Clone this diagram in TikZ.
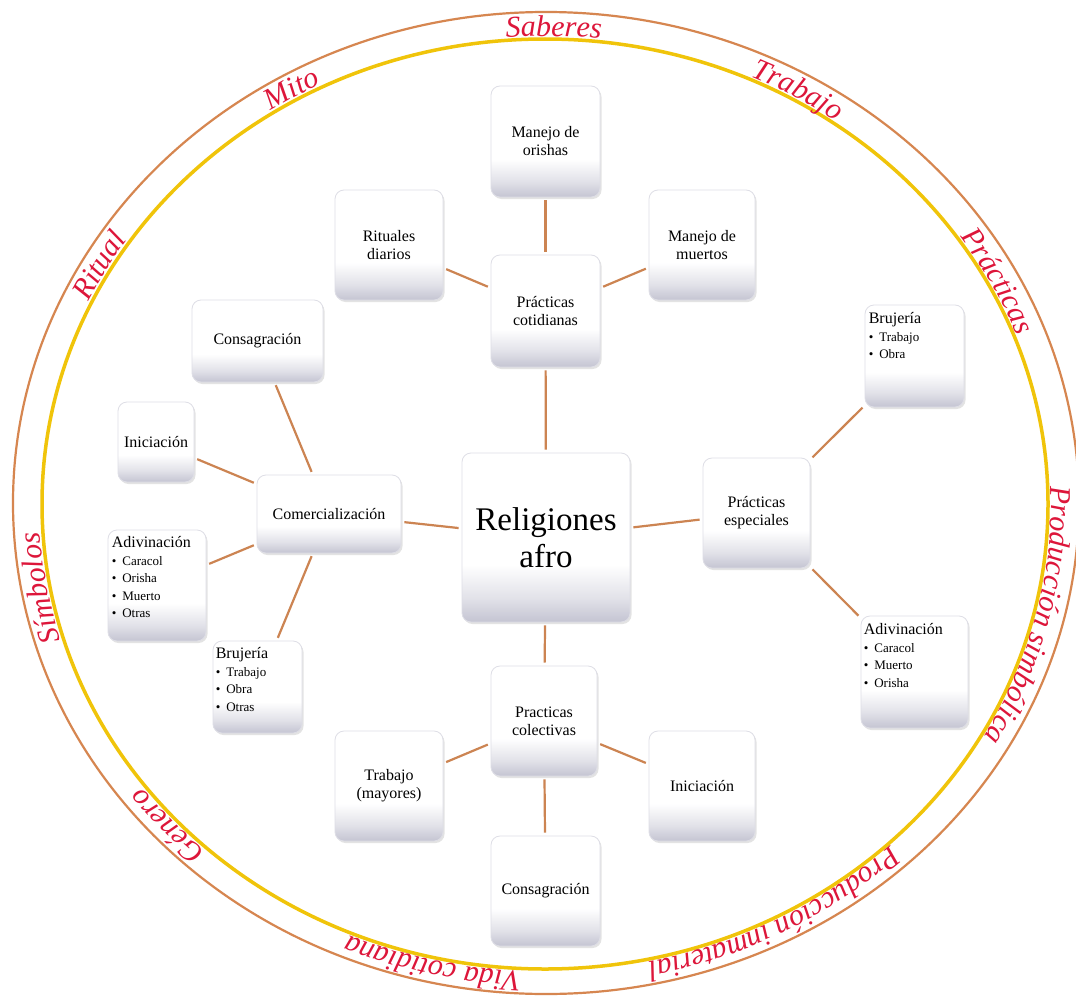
\documentclass[tikz,border=0pt]{standalone}
\usepackage{fontspec}
\setmainfont{Liberation Serif}
\usetikzlibrary{calc,shadows,decorations.text}
\definecolor{ringred}{RGB}{221,22,58}
\definecolor{ringor}{RGB}{214,134,80}
\definecolor{ringyel}{RGB}{240,196,10}
\definecolor{conncol}{RGB}{204,132,82}
\definecolor{boxg}{RGB}{196,196,210}
\definecolor{boxline}{RGB}{222,222,230}
\pgfdeclareverticalshading{glossy}{100bp}{color(0bp)=(boxg); color(25bp)=(boxg); color(32bp)=(boxg!50!white); color(42bp)=(white); color(100bp)=(white)}
\newcommand\ringfont{\fontsize{30}{31}\selectfont\itshape}
\newcommand\boxfont{\fontsize{16}{18}\selectfont}
\newcommand\bigfont{\fontsize{33}{37}\selectfont}
\newcommand\hdrfont{\fontsize{16}{18}\selectfont}
\newcommand\itmfont{\fontsize{13}{17.5}\selectfont}
\newcommand\itm[1]{\textbullet\hspace{6pt}#1}
\newcommand\ringword[3]{\path[decorate, decoration={text along path, text={|\ringfont|#3}, text align=center, text color=ringred}] ($(545,504)+({-(#1)-(#2)}:506 and 468)$) arc[start angle={-(#1)-(#2)}, end angle={-(#1)+(#2)}, x radius=506, y radius=468];}
\tikzset{
  box/.style={rectangle, rounded corners=9pt, draw=boxline, line width=0.8pt, shade, shading=glossy,
    drop shadow={opacity=0.22, shadow xshift=1.5pt, shadow yshift=-2pt},
    align=center, font=\boxfont, inner sep=2pt, text=black},
  sz/.style 2 args={minimum width=#1pt, minimum height=#2pt},
  conn/.style={draw=conncol, line width=2.2pt, shorten >=3pt, shorten <=3pt},
  listtxt/.style={align=left, font=\itmfont, inner sep=0pt, anchor=north west, text=black},
}
\begin{document}
\begin{tikzpicture}[x=1pt,y=-1pt]
\useasboundingbox (0,0) rectangle (1076,998);
\clip (0,0) rectangle (1076,998);
\fill[white] (0,0) rectangle (1076,998);
% rings
\draw[ringor, line width=2.2pt] (546,503) ellipse [x radius=533, y radius=491];
\draw[ringyel, line width=3.5pt] (545,504) ellipse [x radius=503, y radius=465];
% ring words
\ringword{89}{40}{Saberes}
\ringword{120}{30}{Mito}
\ringword{60}{30}{Trabajo}
\ringword{27.5}{30}{Prácticas}
\ringword{150.5}{30}{Ritual}
\ringword{190}{30}{Símbolos}
\ringword{-13.5}{40}{Producción simbólica}
\ringword{-138}{30}{Género}
\ringword{-103}{30}{Vida cotidiana}
\ringword{-62}{40}{Producción inmaterial}
% boxes
\node[box, sz={109}{111}] (orishas) at (545.5,141.5) {Manejo de\\orishas};
\node[box, sz={108}{110}] (rituales) at (389,245) {Rituales\\diarios};
\node[box, sz={106}{110}] (muertos) at (702,245) {Manejo de\\muertos};
\node[box, sz={109}{112}] (cotid) at (545.5,311) {Prácticas\\cotidianas};
\node[box, sz={131}{82}] (consL) at (257.5,341) {Consagración};
\node[box, sz={76}{80}] (iniL) at (156,442) {Iniciación};
\node[box, sz={99}{102}] (brujR) at (914.5,356) {};
\node[box, sz={168}{169}, font=\bigfont] (center) at (546,537.5) {Religiones\\afro};
\node[box, sz={144}{78}] (comer) at (329,514) {Comercialización};
\node[box, sz={107}{110}] (espec) at (756.5,513) {Prácticas\\especiales};
\node[box, sz={98}{111}] (adivL) at (157,585.5) {};
\node[box, sz={89}{92}] (brujL) at (257.5,687) {};
\node[box, sz={107}{112}] (adivR) at (914.5,672) {};
\node[box, sz={106}{110}] (colect) at (544,721) {Practicas\\colectivas};
\node[box, sz={108}{110}] (trabajo) at (389,786) {Trabajo\\(mayores)};
\node[box, sz={106}{110}] (iniBR) at (702,786) {Iniciación};
\node[box, sz={109}{110}] (consB) at (545.5,891) {Consagración};
% list texts
\node[listtxt] (brujRt) at ($(brujR.north west)+(4,8)$) {{\hdrfont Brujería}\\\itm{Trabajo}\\\itm{Obra}};
\node[listtxt] (adivLt) at ($(adivL.north west)+(4,7)$) {{\hdrfont Adivinación}\\\itm{Caracol}\\\itm{Orisha}\\\itm{Muerto}\\\itm{Otras}};
\node[listtxt] (brujLt) at ($(brujL.north west)+(3,7)$) {{\hdrfont Brujería}\\\itm{Trabajo}\\\itm{Obra}\\\itm{Otras}};
\node[listtxt] (adivRt) at ($(adivR.north west)+(3,8)$) {{\hdrfont Adivinación}\\\itm{Caracol}\\\itm{Muerto}\\\itm{Orisha}};
% connectors
\draw[conn] (orishas) -- (cotid);
\draw[conn] (rituales) -- (cotid);
\draw[conn] (muertos) -- (cotid);
\draw[conn] (cotid) -- (center);
\draw[conn] (consL) -- (comer);
\draw[conn] (iniL) -- (comer);
\draw[conn] (adivL) -- (comer);
\draw[conn] (brujL) -- (comer);
\draw[conn] (comer) -- (center);
\draw[conn] (center) -- (espec);
\draw[conn] (espec) -- (brujR);
\draw[conn] (espec) -- (adivR);
\draw[conn] (center) -- (colect);
\draw[conn] (colect) -- (trabajo);
\draw[conn] (colect) -- (iniBR);
\draw[conn] (colect) -- (consB);
\end{tikzpicture}
\end{document}
